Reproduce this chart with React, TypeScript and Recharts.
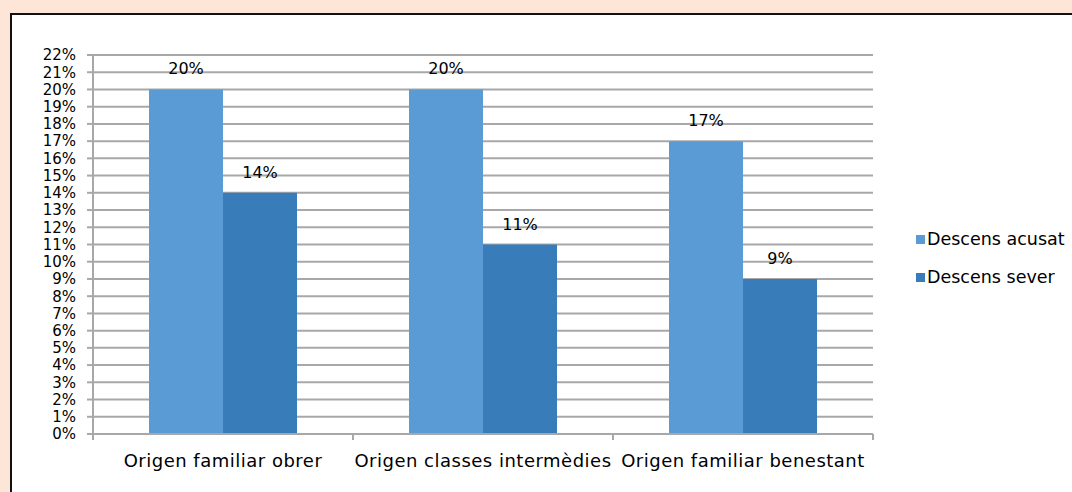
import { BarChart, Bar, XAxis, YAxis, CartesianGrid, Legend, LabelList } from "recharts";

const categories = ["Origen familiar obrer", "Origen classes intermèdies", "Origen familiar benestant"];
const acusat = [20, 20, 17];
const sever = [14, 11, 9];
const yTicks = [0, 1, 2, 3, 4, 5, 6, 7, 8, 9, 10, 11, 12, 13, 14, 15, 16, 17, 18, 19, 20, 21, 22];

const seriesNames = { acusat: "Descens acusat", sever: "Descens sever" };
const colors = { acusat: "#5b9bd5", sever: "#387dba" };

const data = categories.map((name, i) => ({ name, acusat: acusat[i], sever: sever[i] }));

const FONT = "'DejaVu Sans', Verdana, sans-serif";
const GRID = "#a8a8a8";

function XTick(props: any) {
    const { x, y, payload, index, width, visibleTicksCount } = props;
    const half = width && visibleTicksCount ? width / visibleTicksCount / 2 : 130;
    return (
        <g>
            <line x1={x - half} y1={y} x2={x - half} y2={y + 6} stroke={GRID} strokeWidth={2}/>
            {index === visibleTicksCount - 1 && (
                <line x1={x + half} y1={y} x2={x + half} y2={y + 6} stroke={GRID} strokeWidth={2}/>
            )}
            <text x={x} y={y + 33} textAnchor="middle" fill="#000" fontSize={18} letterSpacing={0.5} fontFamily={FONT}>
                {payload.value}
            </text>
        </g>
    );
}

function LegendBox() {
    const rows = [
        { key: "acusat", label: seriesNames.acusat, color: colors.acusat },
        { key: "sever", label: seriesNames.sever, color: colors.sever },
    ];
    return (
        <div style={{ fontFamily: FONT, fontSize: 17.5, color: "#000" }}>
            {rows.map((r) => (
                <div key={r.key} style={{ display: "flex", alignItems: "center", height: 38 }}>
                    <span style={{ width: 9, height: 9, background: r.color, marginRight: 2, display: "inline-block" }}/>
                    <span>{r.label}</span>
                </div>
            ))}
        </div>
    );
}

export default function App() {
    return (
        <div style={{ position: "absolute", left: 0, top: 0, width: 1072, height: 492, background: "#fde5d7", overflow: "hidden" }}>
            <div style={{ position: "absolute", left: 10, top: 13, width: 1072, height: 500, background: "#fff", borderLeft: "2px solid #111", borderTop: "2px solid #111" }}/>
            <div style={{ position: "absolute", left: 0, top: 0 }}>
                <BarChart
                    width={1072}
                    height={492}
                    data={data}
                    margin={{ top: 55, right: 199, left: 33, bottom: 0 }}
                    barGap={0}
                    barCategoryGap={56}
                >
                    <CartesianGrid vertical={false} stroke={GRID} strokeWidth={2}/>
                    <XAxis
                        dataKey="name"
                        height={58}
                        tick={<XTick/>}
                        tickLine={false}
                        tickSize={0}
                        tickMargin={0}
                        axisLine={{ stroke: GRID, strokeWidth: 2 }}
                        interval={0}
                    />
                    <YAxis
                        width={60}
                        domain={[0, 22]}
                        ticks={yTicks}
                        interval={0}
                        tickFormatter={(v) => `${v}%`}
                        axisLine={{ stroke: GRID, strokeWidth: 2 }}
                        tickLine={{ stroke: GRID, strokeWidth: 2 }}
                        tickSize={6}
                        tickMargin={11}
                        tick={{ fill: "#000", fontSize: 15, fontFamily: FONT }}
                    />
                    <Legend
                        layout="horizontal"
                        verticalAlign="middle"
                        align="center"
                        content={<LegendBox/>}
                        wrapperStyle={{ left: 916, top: 220, width: 160 }}
                    />
                    <Bar dataKey="acusat" name={seriesNames.acusat} fill={colors.acusat} isAnimationActive={false}>
                        <LabelList dataKey="acusat" position="top" offset={15} formatter={(v: any) => `${v}%`} fill="#000" fontSize={16} fontFamily={FONT}/>
                    </Bar>
                    <Bar dataKey="sever" name={seriesNames.sever} fill={colors.sever} isAnimationActive={false}>
                        <LabelList dataKey="sever" position="top" offset={15} formatter={(v: any) => `${v}%`} fill="#000" fontSize={16} fontFamily={FONT}/>
                    </Bar>
                </BarChart>
            </div>
        </div>
    );
}
